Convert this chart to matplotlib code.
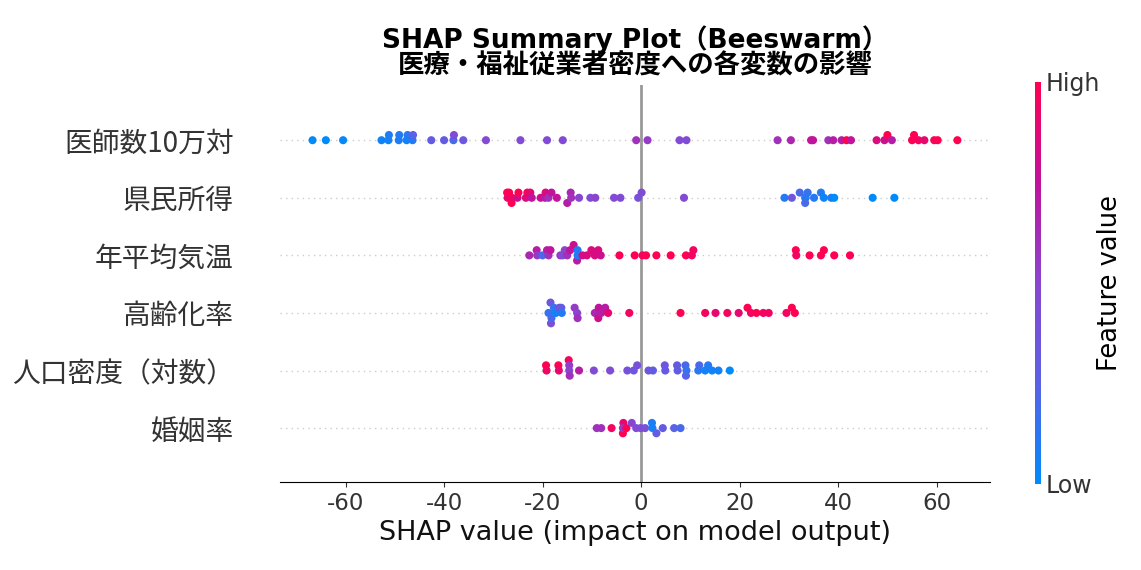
import numpy as np
import matplotlib
matplotlib.use('Agg')
import matplotlib.pyplot as plt
from matplotlib.colors import LinearSegmentedColormap

plt.rcParams['font.family'] = ['DejaVu Sans', 'Noto Sans CJK JP']
plt.rcParams['axes.unicode_minus'] = False
JP = ['Noto Sans CJK JP', 'DejaVu Sans']

features = ['医師数10万対', '県民所得', '年平均気温', '高齢化率', '人口密度（対数）', '婚姻率']

# SHAP values and feature values (0 = low, 1 = high) per feature
shap_vals = {
    '医師数10万対': [-66.7, -64.0, -60.5, -52.7, -51.3, -51.2, -49.2, -49.1, -47.4, -47.6, -46.4, -46.3,
                -42.6, -40.0, -38.1, -38.0, -36.1, -31.5, -24.5, -19.1, -15.9, -1.0, 1.3, 7.8, 9.2,
                27.7, 30.4, 34.5, 34.9, 38.0, 39.0, 40.7, 41.7, 42.6, 47.8, 49.4, 50.0, 50.9,
                55.0, 55.4, 56.3, 57.5, 59.5, 60.2, 64.2],
    '県民所得': [-27.2, -27.1, -26.8, -26.3, -26.2, -25.1, -24.9, -23.4, -23.1, -22.5, -22.2, -20.4,
             -19.5, -19.4, -18.8, -18.2, -17.1, -15.0, -14.3, -14.2, -12.6, -10.3, -9.3, -5.5, -4.2,
             -0.6, 0.1, 8.7, 29.1, 30.6, 32.2, 33.3, 33.4, 33.3, 33.8, 35.1, 36.5, 37.1, 38.6,
             39.2, 47.0, 51.4],
    '年平均気温': [-22.7, -21.2, -21.1, -20.0, -19.1, -18.8, -18.4, -16.4, -15.9, -15.5, -15.0, -14.4,
              -13.7, -13.0, -12.9, -12.9, -11.9, -11.0, -10.1, -9.4, -8.7, -8.2, -4.4, -1.3, 0.3,
              1.0, 3.1, 6.0, 9.1, 10.3, 10.6, 31.4, 31.5, 34.2, 36.5, 37.1, 39.2, 42.4],
    '高齢化率': [-18.8, -18.4, -18.3, -18.2, -17.7, -17.3, -16.6, -16.2, -16.1, -13.5, -13.0, -12.9,
             -9.4, -8.7, -8.6, -8.1, -7.3, -6.7, -2.4, 8.0, 13.0, 15.1, 17.5, 19.8, 21.6, 22.3,
             23.4, 24.8, 25.9, 29.5, 30.6, 31.2],
    '人口密度（対数）': [-19.3, -19.2, -16.8, -16.7, -14.7, -14.6, -14.6, -14.5, -12.6, -9.6, -6.3, -2.8,
                 -1.5, -0.8, 1.5, 2.4, 4.9, 4.8, 7.4, 7.3, 9.1, 9.0, 9.2, 11.6, 11.8, 13.0, 13.6,
                 14.4, 15.7, 18.0],
    '婚姻率': [-9.0, -8.1, -6.0, -3.7, -3.6, -3.7, -3.0, -1.9, -1.0, -0.1, 0.8, 2.2, 2.3, 3.1,
            4.4, 6.7, 8.0],
}
feat_vals = {
    '医師数10万対': [0.0, 0.0, 0.02, 0.05, 0.05, 0.08, 0.08, 0.1, 0.15, 0.05, 0.1, 0.25,
                0.3, 0.3, 0.2, 0.45, 0.35, 0.45, 0.45, 0.45, 0.45, 0.6, 0.55, 0.45, 0.45,
                0.6, 0.65, 0.75, 0.75, 0.6, 0.7, 0.7, 1.0, 0.75, 0.85, 0.8, 1.0, 0.7,
                1.0, 1.0, 0.95, 0.9, 0.95, 1.0, 1.0],
    '県民所得': [1.0, 0.9, 1.0, 1.0, 0.95, 0.8, 1.0, 0.85, 0.95, 0.9, 0.75, 0.8,
             0.7, 0.85, 0.6, 0.75, 0.75, 0.7, 0.65, 0.6, 0.5, 0.45, 0.5, 0.45, 0.45,
             0.4, 0.45, 0.45, 0.1, 0.35, 0.2, 0.1, 0.1, 0.2, 0.15, 0.1, 0.1, 0.05, 0.1,
             0.0, 0.0, 0.0],
    '年平均気温': [0.65, 0.7, 0.55, 0.2, 0.7, 0.6, 0.75, 0.55, 0.45, 0.5, 0.6, 0.75,
              0.8, 0.7, 0.1, 0.1, 0.8, 0.85, 0.85, 0.85, 0.85, 0.8, 1.0, 1.0, 0.95,
              1.0, 1.0, 1.0, 1.0, 0.95, 0.95, 1.0, 0.95, 1.0, 1.0, 1.0, 1.0, 1.0],
    '高齢化率': [0.15, 0.35, 0.4, 0.2, 0.15, 0.05, 0.4, 0.3, 0.1, 0.55, 0.5, 0.6,
             0.65, 0.8, 0.75, 0.7, 0.7, 0.9, 0.95, 1.0, 0.95, 0.9, 0.95, 0.9, 1.0, 0.95,
             1.0, 0.95, 0.95, 0.95, 1.0, 1.0],
    '人口密度（対数）': [1.0, 0.95, 1.0, 0.9, 0.95, 0.55, 0.5, 0.6, 0.7, 0.45, 0.45, 0.4,
                 0.35, 0.4, 0.35, 0.3, 0.3, 0.35, 0.3, 0.3, 0.25, 0.2, 0.15, 0.1, 0.2, 0.05, 0.1,
                 0.05, 0.05, 0.0],
    '婚姻率': [0.6, 0.6, 0.95, 1.0, 0.9, 0.55, 1.0, 0.5, 0.45, 0.45, 0.4, 0.1, 0.05, 0.3,
            0.3, 0.25, 0.2],
}

cmap = LinearSegmentedColormap.from_list(
    'shap', ['#008bfb', '#5a62e6', '#8a45cf', '#c0139c', '#ff0052'])

fig = plt.figure(figsize=(11.41, 5.70), dpi=100)
ax = fig.add_axes([0.245, 0.154, 0.623, 0.697])

n = len(features)
xmin, xmax = -73.4, 70.9
bin_w = (max(shap_vals['医師数10万対']) - min(shap_vals['医師数10万対'])) / 100.0
for i, f in enumerate(features):
    pos = n - 1 - i
    x = np.array(shap_vals[f])
    c = np.array(feat_vals[f])
    ax.axhline(pos, color='#cccccc', lw=1, ls=(0, (1, 3)), zorder=0)
    # beeswarm stacking: points in the same bin get spread up/down
    bins = np.round(x / bin_w)
    ys = np.zeros(len(x))
    for b in np.unique(bins):
        idx = np.where(bins == b)[0]
        idx = idx[np.argsort(c[idx])]
        for layer, j in enumerate(idx):
            ys[j] = np.ceil(layer / 2) * ((layer % 2) * 2 - 1)
    ax.scatter(x, pos + ys * 0.09, c=cmap(c), s=34, lw=0, zorder=3)

ax.axvline(0, color='#999999', lw=2, zorder=1)
ax.set_xlim(xmin, xmax)
ax.set_ylim(-0.94, n - 0.04)
ax.set_yticks(range(n))
ax.set_yticklabels(features[::-1], fontsize=20, color='#333333', family=JP)
ax.tick_params(axis='y', length=0, pad=33)
ax.set_xticks([-60, -40, -20, 0, 20, 40, 60])
ax.tick_params(axis='x', labelsize=16.5, colors='#333333')
ax.set_xlabel('SHAP value (impact on model output)', fontsize=19.5, color='#111111')
for s in ['left', 'top', 'right']:
    ax.spines[s].set_visible(False)

ax.set_title('SHAP Summary Plot（Beeswarm）\n医療・福祉従業者密度への各変数の影響',
             fontsize=19, fontweight='bold', pad=8, linespacing=1.0)

cax = fig.add_axes([0.907, 0.151, 0.005, 0.706])
sm = plt.cm.ScalarMappable(cmap=cmap)
cb = fig.colorbar(sm, cax=cax, ticks=[0, 1])
cb.set_ticklabels(['Low', 'High'])
cb.ax.tick_params(labelsize=17, length=0, colors='#333333')
cb.outline.set_visible(False)
cb.set_label('Feature value', fontsize=18.5, labelpad=-2)

fig.savefig('out.png', dpi=100)
